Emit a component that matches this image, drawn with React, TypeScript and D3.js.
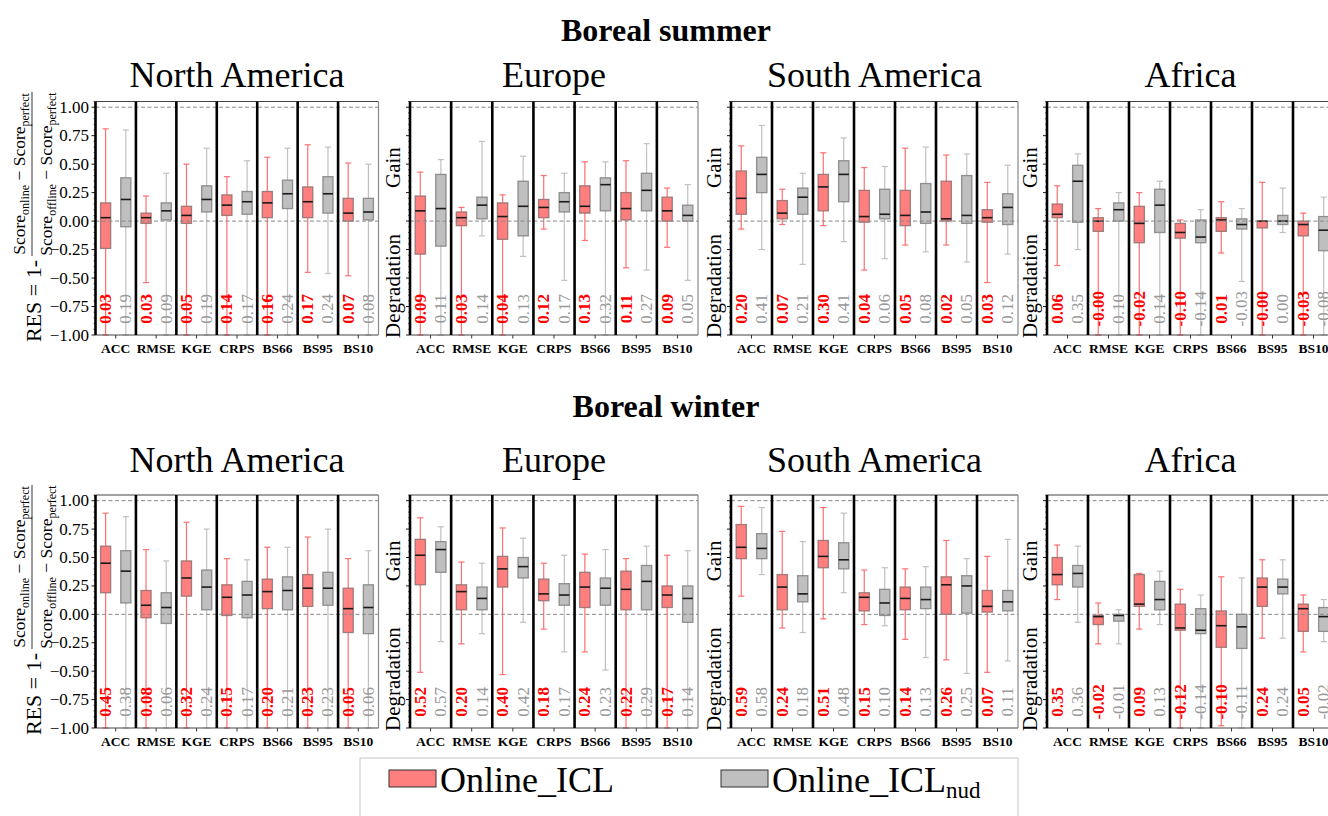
import React from "react";
import * as d3 from "d3";

const seasons = ["Boreal summer", "Boreal winter"];
const regions = ["North America", "Europe", "South America", "Africa"];
const metrics = ["ACC", "RMSE", "KGE", "CRPS", "BS66", "BS95", "BS10"];

// each row: [lower whisker, q1, median, q3, upper whisker], one per metric
const naSummerIcl = [
  [-1, -0.24, 0.03, 0.16, 0.81],
  [-0.54, -0.02, 0.03, 0.07, 0.22],
  [-1, -0.02, 0.05, 0.13, 0.5],
  [-1, 0.05, 0.14, 0.23, 0.39],
  [-1, 0.03, 0.16, 0.26, 0.56],
  [-0.45, 0.03, 0.17, 0.3, 0.67],
  [-0.48, 0.0, 0.07, 0.2, 0.51],
];
const naSummerNud = [
  [-1, -0.05, 0.19, 0.38, 0.8],
  [-1, 0.01, 0.09, 0.16, 0.42],
  [-1, 0.08, 0.19, 0.31, 0.64],
  [-1, 0.06, 0.17, 0.26, 0.53],
  [-1, 0.11, 0.24, 0.36, 0.64],
  [-0.46, 0.07, 0.24, 0.39, 0.65],
  [-1, 0.01, 0.08, 0.2, 0.5],
];
const euSummerIcl = [
  [-1, -0.29, 0.09, 0.22, 0.43],
  [-1, -0.04, 0.03, 0.08, 0.12],
  [-1, -0.16, 0.04, 0.16, 0.23],
  [-0.07, 0.03, 0.12, 0.19, 0.4],
  [-0.17, 0.07, 0.13, 0.31, 0.52],
  [-0.41, 0.01, 0.11, 0.25, 0.53],
  [-0.23, 0.0, 0.09, 0.21, 0.29],
];
const euSummerNud = [
  [-1, -0.22, 0.11, 0.41, 0.54],
  [-0.13, 0.02, 0.14, 0.21, 0.7],
  [-0.31, -0.13, 0.13, 0.35, 0.57],
  [-0.52, 0.08, 0.17, 0.25, 0.42],
  [-1, 0.09, 0.32, 0.38, 0.52],
  [-0.43, 0.09, 0.27, 0.42, 0.68],
  [-0.52, 0.0, 0.05, 0.14, 0.32],
];
const saSummerIcl = [
  [-0.07, 0.06, 0.2, 0.44, 0.66],
  [-0.03, 0.02, 0.07, 0.18, 0.28],
  [-0.04, 0.09, 0.3, 0.41, 0.6],
  [-0.43, -0.01, 0.04, 0.27, 0.47],
  [-0.21, -0.04, 0.05, 0.27, 0.64],
  [-0.21, 0.0, 0.02, 0.35, 0.58],
  [-0.54, -0.01, 0.03, 0.1, 0.34],
];
const saSummerNud = [
  [-0.25, 0.25, 0.41, 0.56, 0.84],
  [-0.38, 0.06, 0.21, 0.29, 0.42],
  [-0.18, 0.17, 0.41, 0.53, 0.73],
  [-0.33, 0.02, 0.06, 0.28, 0.48],
  [-0.27, -0.02, 0.08, 0.33, 0.65],
  [-0.36, -0.02, 0.05, 0.4, 0.59],
  [-0.29, -0.03, 0.12, 0.24, 0.49],
];
const afSummerIcl = [
  [-0.39, 0.03, 0.06, 0.15, 0.31],
  [-1, -0.09, -0.001, 0.03, 0.11],
  [-1, -0.19, -0.02, 0.13, 0.25],
  [-1, -0.15, -0.1, -0.02, 0.01],
  [-0.28, -0.09, 0.01, 0.03, 0.17],
  [-1, -0.06, -0.001, 0.0, 0.34],
  [-1, -0.13, -0.03, 0.0, 0.07],
];
const afSummerNud = [
  [-0.25, -0.01, 0.35, 0.49, 0.59],
  [-1, 0.0, 0.1, 0.16, 0.25],
  [-1, -0.1, 0.14, 0.28, 0.35],
  [-1, -0.19, -0.14, 0.01, 0.1],
  [-0.53, -0.07, -0.03, 0.02, 0.11],
  [-0.1, -0.03, 0.0, 0.05, 0.29],
  [-1, -0.26, -0.08, 0.04, 0.21],
];
const naWinterIcl = [
  [-1, 0.19, 0.45, 0.6, 0.89],
  [-1, -0.03, 0.08, 0.21, 0.57],
  [-1, 0.16, 0.32, 0.47, 0.81],
  [-1, -0.01, 0.15, 0.26, 0.49],
  [-1, 0.05, 0.2, 0.31, 0.59],
  [-1, 0.07, 0.23, 0.35, 0.68],
  [-1, -0.16, 0.05, 0.23, 0.49],
];
const naWinterNud = [
  [-1, 0.1, 0.38, 0.56, 0.86],
  [-1, -0.08, 0.06, 0.19, 0.47],
  [-1, 0.04, 0.24, 0.39, 0.75],
  [-1, -0.03, 0.17, 0.29, 0.48],
  [-1, 0.04, 0.21, 0.33, 0.59],
  [-1, 0.08, 0.23, 0.37, 0.75],
  [-1, -0.17, 0.06, 0.26, 0.56],
];
const euWinterIcl = [
  [-0.51, 0.26, 0.52, 0.66, 0.85],
  [-0.26, 0.04, 0.2, 0.26, 0.46],
  [-0.53, 0.24, 0.4, 0.51, 0.76],
  [-0.13, 0.12, 0.18, 0.31, 0.45],
  [-0.33, 0.06, 0.24, 0.37, 0.53],
  [-1, 0.04, 0.22, 0.38, 0.49],
  [-1, 0.06, 0.17, 0.25, 0.52],
];
const euWinterNud = [
  [-0.24, 0.37, 0.57, 0.64, 0.77],
  [-0.17, 0.04, 0.14, 0.24, 0.45],
  [-0.07, 0.32, 0.42, 0.5, 0.67],
  [-0.33, 0.08, 0.17, 0.27, 0.52],
  [-0.49, 0.08, 0.23, 0.32, 0.57],
  [-1, 0.04, 0.29, 0.43, 0.6],
  [-1, -0.07, 0.14, 0.25, 0.56],
];
const saWinterIcl = [
  [0.16, 0.49, 0.59, 0.79, 0.95],
  [-0.12, 0.04, 0.24, 0.35, 0.73],
  [-0.04, 0.41, 0.51, 0.65, 0.94],
  [-0.09, 0.03, 0.15, 0.19, 0.39],
  [-0.22, 0.04, 0.14, 0.24, 0.4],
  [-0.4, 0.0, 0.26, 0.33, 0.65],
  [-0.51, 0.02, 0.07, 0.21, 0.51],
];
const saWinterNud = [
  [0.35, 0.49, 0.58, 0.71, 0.94],
  [-0.16, 0.11, 0.18, 0.34, 0.64],
  [0.19, 0.4, 0.48, 0.63, 0.89],
  [-0.1, -0.01, 0.1, 0.22, 0.41],
  [-0.38, 0.05, 0.13, 0.24, 0.42],
  [-0.52, 0.01, 0.25, 0.34, 0.49],
  [-0.41, 0.03, 0.11, 0.21, 0.66],
];
const afWinterIcl = [
  [0.13, 0.26, 0.35, 0.5, 0.61],
  [-0.26, -0.09, -0.02, -0.01, 0.1],
  [-0.13, 0.07, 0.09, 0.35, 0.36],
  [-1, -0.14, -0.12, 0.09, 0.22],
  [-0.98, -0.29, -0.1, 0.03, 0.33],
  [-0.21, 0.07, 0.24, 0.32, 0.48],
  [-0.33, -0.15, 0.05, 0.09, 0.17],
];
const afWinterNud = [
  [-0.07, 0.24, 0.36, 0.43, 0.6],
  [-0.26, -0.06, -0.01, 0.0, 0.04],
  [-0.09, 0.04, 0.13, 0.29, 0.38],
  [-1, -0.17, -0.14, 0.05, 0.17],
  [-1, -0.3, -0.11, 0.0, 0.32],
  [-0.21, 0.18, 0.24, 0.31, 0.48],
  [-0.24, -0.15, -0.02, 0.06, 0.13],
];

const panels = [
  { row: 0, col: 0, icl: naSummerIcl, nud: naSummerNud },
  { row: 0, col: 1, icl: euSummerIcl, nud: euSummerNud },
  { row: 0, col: 2, icl: saSummerIcl, nud: saSummerNud },
  { row: 0, col: 3, icl: afSummerIcl, nud: afSummerNud },
  { row: 1, col: 0, icl: naWinterIcl, nud: naWinterNud },
  { row: 1, col: 1, icl: euWinterIcl, nud: euWinterNud },
  { row: 1, col: 2, icl: saWinterIcl, nud: saWinterNud },
  { row: 1, col: 3, icl: afWinterIcl, nud: afWinterNud },
];

const W = 1328;
const H = 816;
const FONT = "'Liberation Serif', 'Times New Roman', serif";
const rowTop = [101.5, 495];
const rowBottom = [335, 728];
const seasonTitleY = [41, 417];
const regionTitleY = [87, 472];
const regionX = [95.5, 410, 731, 1047];
const regionW = [283, 288, 287, 287];

const styles = [
  { fill: "#ff7f7f", edge: "#8a6a6a", whisker: "#ff7070", text: "#ff0000", weight: "bold" },
  { fill: "#bfbfbf", edge: "#7a7a7a", whisker: "#c0c0c0", text: "#999999", weight: "normal" },
];

const label = (v: number) => v.toFixed(2);

function Panel({ row, col, icl, nud }: any) {
  const y = d3.scaleLinear().domain([-1, 1.05]).range([rowBottom[row], rowTop[row]]).clamp(true);
  const x0 = regionX[col];
  const x1 = x0 + regionW[col];
  const band = d3.scaleBand().domain(metrics).range([x0, x1]);
  const bw = band.bandwidth();
  const series = [icl, nud];
  const ticks = d3.range(-20, 22).map((i) => ({ v: i / 20, major: i % 5 === 0 }));
  const tickFmt = d3.format(".2f");

  return (
    <g>
      <text x={(x0 + x1) / 2} y={regionTitleY[row]} textAnchor="middle" fontSize={36}>
        {regions[col]}
      </text>
      {metrics.map((m, i) => {
        const sx = d3.scaleLinear().domain([0.5, 2.5]).range([band(m)!, band(m)! + bw]);
        return (
          <g key={m}>
            {series.map((data: number[][], s: number) => {
              const [lo, q1, med, q3, hi] = data[i];
              const st = styles[s];
              const cx = sx(s + 1);
              const hw = sx(s + 1.25) - cx;
              const cw = sx(s + 1.15) - cx;
              return (
                <g key={s}>
                  <line x1={cx} x2={cx} y1={y(q1)} y2={y(lo)} stroke={st.whisker} strokeWidth={1.2} />
                  <line x1={cx} x2={cx} y1={y(q3)} y2={y(hi)} stroke={st.whisker} strokeWidth={1.2} />
                  <line x1={cx - cw} x2={cx + cw} y1={y(lo)} y2={y(lo)} stroke={st.whisker} strokeWidth={1.2} />
                  <line x1={cx - cw} x2={cx + cw} y1={y(hi)} y2={y(hi)} stroke={st.whisker} strokeWidth={1.2} />
                  <rect
                    x={cx - hw}
                    y={y(q3)}
                    width={2 * hw}
                    height={Math.max(0.5, y(q1) - y(q3))}
                    fill={st.fill}
                    stroke={st.edge}
                    strokeOpacity={0.8}
                    strokeWidth={1.3}
                  />
                  <line x1={cx - hw} x2={cx + hw} y1={y(med)} y2={y(med)} stroke="#1a1a1a" strokeWidth={1.6} />
                  <text
                    transform={`translate(${cx},${y(-0.77)}) rotate(-90)`}
                    textAnchor="middle"
                    dominantBaseline="central"
                    fontSize={17}
                    fontWeight={st.weight}
                    fill={st.text}
                  >
                    {label(med)}
                  </text>
                </g>
              );
            })}
            <line x1={sx(1.5)} x2={sx(1.5)} y1={rowBottom[row]} y2={rowBottom[row] + 3.5} stroke="#000" strokeWidth={0.8} />
            <text x={sx(1.5)} y={rowBottom[row] + 18} textAnchor="middle" fontSize={13.5} fontWeight="bold">
              {m}
            </text>
          </g>
        );
      })}
      {[0, 1].map((v) => (
        <line
          key={v}
          x1={x0}
          x2={x1}
          y1={y(v)}
          y2={y(v)}
          stroke="#888"
          strokeWidth={1}
          strokeDasharray="4,2.5"
        />
      ))}
      <line x1={x0} x2={x1} y1={rowTop[row]} y2={rowTop[row]} stroke="#444" strokeWidth={1.2} />
      <line x1={x0} x2={x1} y1={rowBottom[row]} y2={rowBottom[row]} stroke="#444" strokeWidth={1.2} />
      <line x1={x1} x2={x1} y1={rowTop[row]} y2={rowBottom[row]} stroke="#888" strokeWidth={1.2} />
      {metrics.map((m) => (
        <line key={m} x1={band(m)!} x2={band(m)!} y1={rowTop[row]} y2={rowBottom[row]} stroke="#000" strokeWidth={2.6} />
      ))}
      {ticks.map((t) => (
        <line
          key={t.v}
          x1={x0 - (t.major ? 4 : 2)}
          x2={x0}
          y1={y(t.v)}
          y2={y(t.v)}
          stroke="#000"
          strokeWidth={t.major ? 0.9 : 0.6}
        />
      ))}
      {col === 0 &&
        ticks
          .filter((t) => t.major)
          .map((t) => (
            <text key={t.v} x={x0 - 6.5} y={y(t.v)} textAnchor="end" dominantBaseline="central" fontSize={17}>
              {tickFmt(t.v)}
            </text>
          ))}
      {col > 0 && (
        <g fontSize={21}>
          <text transform={`translate(${x0 - 10},${y(0.47)}) rotate(-90)`} textAnchor="middle">
            Gain
          </text>
          <text transform={`translate(${x0 - 10},${y(-0.57)}) rotate(-90)`} textAnchor="middle">
            Degradation
          </text>
        </g>
      )}
    </g>
  );
}

function ResLabel({ cy }: { cy: number }) {
  return (
    <g transform={`translate(32,${cy}) rotate(-90)`}>
      <text x={-86} y={9} textAnchor="end" fontSize={22}>
        RES = 1-
      </text>
      <text x={0} y={-7} textAnchor="middle" fontSize={17.5}>
        <tspan>Score</tspan>
        <tspan dy={4} fontSize={12}>online</tspan>
        <tspan dy={-4}> − Score</tspan>
        <tspan dy={4} fontSize={12}>perfect</tspan>
      </text>
      <line x1={-82} x2={82} y1={0} y2={0} stroke="#000" strokeWidth={0.8} />
      <text x={0} y={20} textAnchor="middle" fontSize={17.5}>
        <tspan>Score</tspan>
        <tspan dy={4} fontSize={12}>offline</tspan>
        <tspan dy={-4}> − Score</tspan>
        <tspan dy={4} fontSize={12}>perfect</tspan>
      </text>
    </g>
  );
}

function Legend() {
  return (
    <g>
      <rect x={360} y={758} width={658} height={90} fill="#fff" stroke="#c8c8c8" strokeWidth={1} />
      <rect x={389} y={770} width={47} height={17} fill={styles[0].fill} stroke="#333" strokeWidth={1} />
      <text x={440} y={792} fontSize={36}>
        Online_ICL
      </text>
      <rect x={721} y={770} width={47} height={17} fill={styles[1].fill} stroke="#333" strokeWidth={1} />
      <text x={772} y={792} fontSize={36}>
        <tspan>Online_ICL</tspan>
        <tspan dy={6} fontSize={23}>nud</tspan>
      </text>
    </g>
  );
}

export default function App() {
  return (
    <svg
      width={W}
      height={H}
      style={{ position: "absolute", left: 0, top: 0, background: "#fff" }}
      fontFamily={FONT}
    >
      <rect width={W} height={H} fill="#fff" />
      {seasons.map((s, r) => (
        <text key={s} x={666} y={seasonTitleY[r]} textAnchor="middle" fontSize={32} fontWeight="bold">
          {s}
        </text>
      ))}
      {panels.map((p) => (
        <Panel key={`${p.row}-${p.col}`} {...p} />
      ))}
      <ResLabel cy={174} />
      <ResLabel cy={567} />
      <Legend />
    </svg>
  );
}
